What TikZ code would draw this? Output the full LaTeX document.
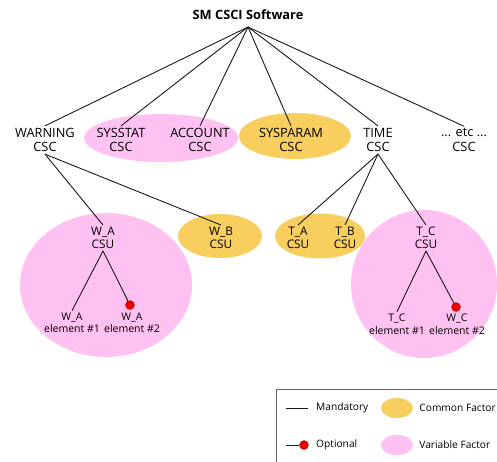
\documentclass[tikz,border=0pt]{standalone}
\usepackage{fontspec}
\setmainfont{Open Sans}
\usetikzlibrary{shapes.geometric, positioning, backgrounds}

\definecolor{comun}{RGB}{248,206,94}
\definecolor{variable}{RGB}{255,192,242}
\definecolor{opcional}{RGB}{238,0,0}

\begin{document}
\begin{tikzpicture}[
    x=1pt, y=-1pt,
    % Definición global de estilos
    base/.style = {align=center, inner sep=2pt},
    csc/.style = {base, font=\fontsize{12.8}{14.5}\selectfont},
    csu/.style = {base, font=\fontsize{11.8}{13}\selectfont},
    elem/.style = {base, font=\fontsize{10.5}{12.5}\selectfont},
    leyenda/.style = {base, anchor=west, inner sep=0pt, font=\fontsize{10.2}{12}\selectfont},
    factor/.style = {ellipse, draw=none, inner sep=0pt},
    comunf/.style = {factor, fill=comun},
    variablef/.style = {factor, fill=variable},
    punto/.style = {circle, fill=opcional, draw=red!60!black, line width=0.3pt, minimum size=9pt, inner sep=0pt},
    linea/.style = {line width=0.9pt, black!90}
]
\useasboundingbox (0,0) rectangle (497,462);

% ===============================
% 1. Agrupaciones (fondo)
% ===============================
\node (gSys) [variablef, minimum width=154pt, minimum height=48pt] at (161,138) {};
\node (gPar) [comunf, minimum width=112pt, minimum height=46pt] at (295,136) {};
\node (gWA) [variablef, minimum width=172pt, minimum height=144pt] at (106,285) {};
\node (gWB) [comunf, minimum width=84pt, minimum height=44pt] at (220,236) {};
\node (gTAB) [comunf, minimum width=90pt, minimum height=45pt] at (320,236) {};
\node (gTC) [variablef, minimum width=146pt, minimum height=148pt] at (424,284) {};

% ===============================
% 2. Raíz y CSC
% ===============================
\node (root) [base, font=\fontsize{12.8}{14}\selectfont\bfseries] at (248,15) {SM CSCI Software};
\coordinate (r0) at (248,27);

\node (warn) [csc] at (45,140) {WARNING\\CSC};
\node (sysst) [csc] at (121,140) {SYSSTAT\\CSC};
\node (acct) [csc] at (200,140) {ACCOUNT\\CSC};
\node (spar) [csc] at (291,140) {SYSPARAM\\CSC};
\node (time) [csc] at (378,140) {TIME\\CSC};
\node (etc) [csc] at (464,140) {... etc ...\\CSC};

% ===============================
% 3. CSU y elementos
% ===============================
\node (wa) [csu] at (103,238) {W\_A\\CSU};
\node (wb) [csu] at (221,238) {W\_B\\CSU};
\node (ta) [csu] at (298,238) {T\_A\\CSU};
\node (tb) [csu] at (345,238) {T\_B\\CSU};
\node (tc) [csu] at (426,238) {T\_C\\CSU};

\node (wae1) [elem] at (72,323) {W\_A\\element \#1};
\node (wae2) [elem] at (132,323) {W\_A\\element \#2};
\node (wadot) [punto] at (130,305) {};
\node (tce1) [elem] at (397,324) {T\_C\\element \#1};
\node (tce2) [elem] at (457,324) {W\_C\\element \#2};
\node (tcdot) [punto] at (456,307) {};

% ===============================
% 4. Trazado de líneas
% ===============================
\foreach \n in {warn, sysst, acct, spar, time, etc}
    \draw [linea] (r0) -- (\n.north);

\draw [linea] (warn.south) -- (wa.north);
\draw [linea] (warn.south) -- (wb.north);
\draw [linea] (time.south) -- (ta.north);
\draw [linea] (time.south) -- (tb.north);
\draw [linea] (time.south) -- (tc.north);

\draw [linea] (wa.south) -- (wae1.north);
\draw [linea] (wa.south) -- (wadot);
\draw [linea] (tc.south) -- (tce1.north);
\draw [linea] (tc.south) -- (tcdot);

% ===============================
% 5. Leyenda
% ===============================
\node (ley) [draw=black!60, line width=0.8pt, minimum width=221pt, minimum height=73pt, anchor=north west, inner sep=0pt] at (275.5,389) {};

\coordinate (lgMa) at (286,408);
\coordinate (lgMb) at (308,408);
\draw [linea] (lgMa) -- (lgMb);
\node (lgMand) [leyenda] at (316,408) {Mandatory};

\coordinate (lgOa) at (286,445);
\node (lgOdot) [punto] at (304,445) {};
\draw [linea] (lgOa) -- (lgOdot);
\node (lgOpt) [leyenda] at (316,445) {Optional};

\node (lgCom) [comunf, minimum width=32pt, minimum height=20pt] at (397,408) {};
\node (lgComT) [leyenda, right=6pt of lgCom] {Common Factor};
\node (lgVar) [variablef, minimum width=32pt, minimum height=20pt] at (397,445) {};
\node (lgVarT) [leyenda, right=6pt of lgVar] {Variable Factor};

\end{tikzpicture}
\end{document}
